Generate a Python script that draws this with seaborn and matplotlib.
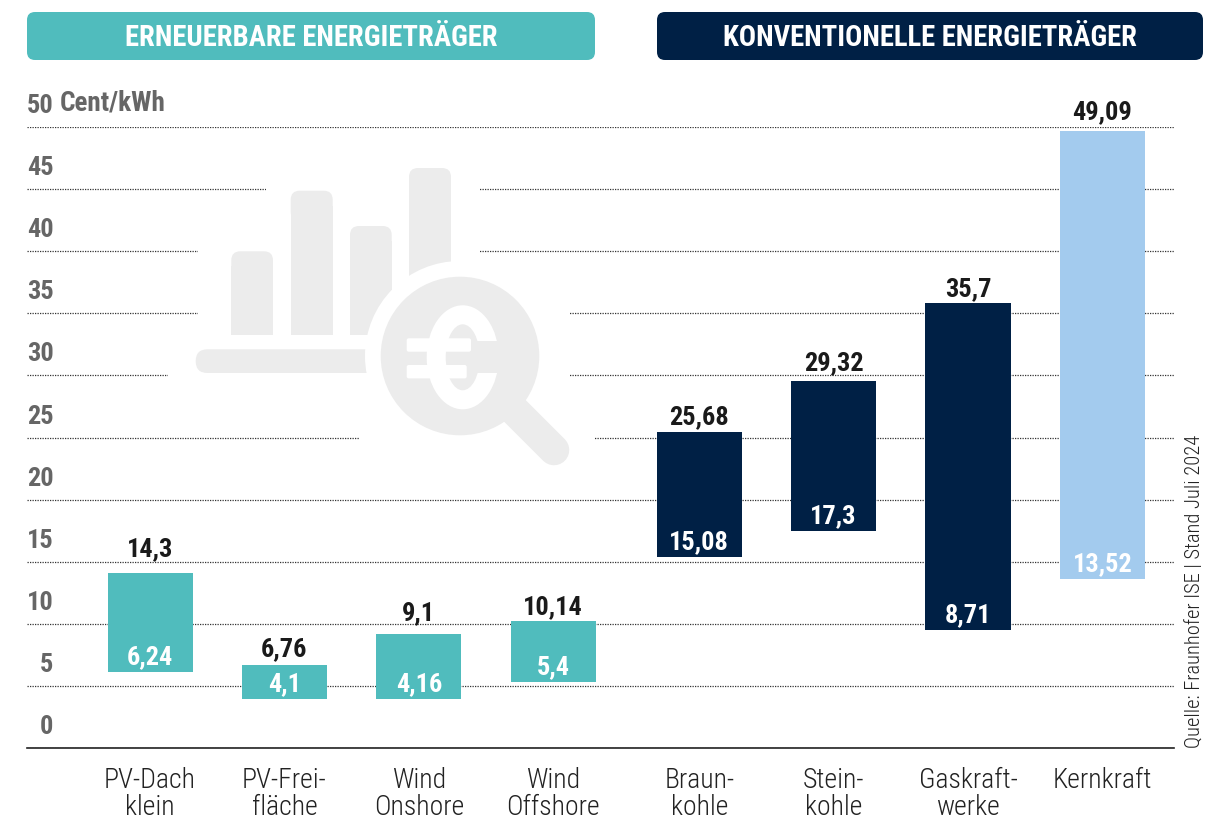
import numpy as np
import pandas as pd
import matplotlib
matplotlib.use('Agg')
import matplotlib.pyplot as plt
import seaborn as sns
from matplotlib.patches import Circle, Ellipse, FancyBboxPatch, Rectangle
from matplotlib.lines import Line2D
from matplotlib.transforms import Affine2D, ScaledTranslation

# Werte
categories = ["PV-Dach\nklein", "PV-Frei-\nfläche", "Wind\nOnshore", "Wind\nOffshore",
              "Braun-\nkohle", "Stein-\nkohle", "Gaskraft-\nwerke", "Kernkraft"]
groups = ["ee", "ee", "ee", "ee", "fossil", "fossil", "fossil", "kern"]
low_drawn = [6.12, 3.95, 3.95, 5.3, 15.38, 17.47, 9.5, 13.6]
high_drawn = [14.09, 6.68, 9.18, 10.2, 25.44, 29.55, 35.8, 49.68]
low_labels = ["6,24", "4,1", "4,16", "5,4", "15,08", "17,3", "8,71", "13,52"]
high_labels = ["14,3", "6,76", "9,1", "10,14", "25,68", "29,32", "35,7", "49,09"]
y_ticks = [0, 5, 10, 15, 20, 25, 30, 35, 40, 45, 50]

TEAL = "#50BCBD"
NAVY = "#002045"
LIGHT = "#A3CBEE"
ICON = "#ECECEC"
palette = {"ee": TEAL, "fossil": NAVY, "kern": LIGHT}

sns.set_theme(style="white")
plt.rcParams['font.family'] = ['Roboto Condensed', 'Liberation Sans', 'DejaVu Sans']

W, H = 1211, 819
fig = plt.figure(figsize=(W / 100, H / 100), dpi=100)
ax = fig.add_axes([27 / W, (H - 748) / H, 1147 / W, 621 / H])
# Pixelkoordinaten (Ursprung oben links) fuer Kopfzeilen und Icon
px = Affine2D().scale(1, -1).translate(0, H)

# zweite Gruppe steht etwas weiter rechts
gap = 0.087
pos = np.arange(len(categories)) + gap * (np.array(groups) != "ee")
df = pd.DataFrame({"pos": pos, "low": low_drawn, "height": np.array(high_drawn) - np.array(low_drawn),
                   "group": groups})
for i, row in df.iterrows():
    # einzeln zeichnen, damit jeder Balken seinen eigenen Fusspunkt hat
    sns.barplot(x=[row["pos"]], y=[row["height"]], color=palette[row["group"]], native_scale=True,
                width=0.633, bottom=row["low"], linewidth=0, saturation=1, zorder=3, ax=ax,
                errorbar=None)

ax.set_xlim(-0.916, 7.62)
ax.set_ylim(0, 50)
ax.set_xlabel("")
ax.set_ylabel("")
ax.set_xticks(pos, categories)
ax.set_yticks(y_ticks, [str(t) for t in y_ticks])
ax.tick_params(axis='x', length=0, pad=13.7, labelsize=20, labelcolor="#222222")
ax.tick_params(axis='y', length=0, pad=-19, labelsize=19, labelcolor="#666666")
for lab in ax.get_xticklabels():
    lab.set_linespacing(1.02)
    lab.set_fontweight(300)
for lab in ax.get_yticklabels():
    lab.set_fontweight("bold")
    lab.set_transform(lab.get_transform() + ScaledTranslation(0, 23.5 / 100, fig.dpi_scale_trans))

ax.grid(axis='y', color="#333333", linewidth=0.9, linestyle=(0, (1, 1)))
ax.set_axisbelow(True)
for side in ["top", "left", "right"]:
    ax.spines[side].set_visible(False)
ax.spines["bottom"].set_color("#222222")
ax.spines["bottom"].set_linewidth(1.2)

ax.text(60, 103, "Cent/kWh", transform=px, fontsize=19.5, fontweight="bold", color="#666666",
        ha="left", va="center", clip_on=False)

# Wertebeschriftung
top_offset = [23.5, 15.5, 20.5, 14.5, 14.5, 17.5, 14.5, 18.5]
for x, hi, lo, hl, ll, off in zip(pos, high_drawn, low_drawn, high_labels, low_labels, top_offset):
    ax.annotate(hl, (x, hi), xytext=(0, off * 0.72), textcoords="offset points", ha="center",
                va="center", fontsize=19, fontweight="bold", color="#1a1a1a", zorder=4)
    ax.annotate(ll, (x, lo), xytext=(0, 15 * 0.72), textcoords="offset points", ha="center",
                va="center", fontsize=19, fontweight="bold", color="white", zorder=4)

# Kopfzeilen
for x0, x1, col, txt in [(27, 595, TEAL, "ERNEUERBARE ENERGIETRÄGER"),
                         (657, 1203, NAVY, "KONVENTIONELLE ENERGIETRÄGER")]:
    ax.add_patch(FancyBboxPatch((x0, 12), x1 - x0, 48, boxstyle="round,pad=0,rounding_size=8",
                                fc=col, ec="none", transform=px, clip_on=False))
    ax.text((x0 + x1) / 2, 38, txt, transform=px, color="white", fontsize=20.6, fontweight="bold",
            ha="center", va="center", clip_on=False)

# Luecken in den Gitterlinien um das Icon
for y, x0, x1 in [(189.5, 266, 480), (251.5, 198, 480), (313.5, 198, 569),
                  (375.5, 168, 569), (438, 359, 595)]:
    ax.add_patch(Rectangle((x0, y - 2), x1 - x0, 4, fc="white", ec="none", transform=px, zorder=1))

# Icon: Balken mit Lupe
for x0, x1, top in [(231.3, 273, 251.3), (290.7, 332.7, 190.7), (350, 391.7, 226), (409, 451, 168)]:
    ax.add_patch(FancyBboxPatch((x0, top), x1 - x0, 30, boxstyle="round,pad=0,rounding_size=9",
                                fc=ICON, ec="none", transform=px, zorder=1.1))
    ax.add_patch(Rectangle((x0, top + 15), x1 - x0, 334.7 - top - 15, fc=ICON, ec="none",
                           transform=px, zorder=1.1))
ax.add_patch(FancyBboxPatch((195.7, 349.3), 190, 23.7, boxstyle="round,pad=0,rounding_size=11.8",
                            fc=ICON, ec="none", transform=px, zorder=1.1))
ax.add_patch(Circle((460, 356), 95, fc="white", ec="none", transform=px, zorder=1.2))
ax.add_line(Line2D([500, 554], [396, 450], color=ICON, lw=22, solid_capstyle="round",
                   transform=px, zorder=1.3))
ax.add_patch(Circle((460, 356), 79.3, fc=ICON, ec="none", transform=px, zorder=1.4))
# Euro-Zeichen im Lupenglas
ax.add_patch(Ellipse((462.7, 357.3), 72, 104, fc="white", ec="none", transform=px, zorder=1.5))
ax.add_patch(Ellipse((462.7, 357.3), 34, 66, fc=ICON, ec="none", transform=px, zorder=1.6))
ax.add_patch(Rectangle((462.7, 341.3), 42, 32, fc=ICON, ec="none", transform=px, zorder=1.6))
ax.add_patch(FancyBboxPatch((406.7, 338.3), 64.3, 13.4, boxstyle="round,pad=0,rounding_size=2",
                            fc="white", ec="none", transform=px, zorder=1.7))
ax.add_patch(FancyBboxPatch((406.7, 365), 60, 13.4, boxstyle="round,pad=0,rounding_size=2",
                            fc="white", ec="none", transform=px, zorder=1.7))

ax.text(1195, 748, "Quelle: Fraunhofer ISE | Stand Juli 2024", transform=px, rotation=90,
        fontsize=14.8, fontweight=300, color="#222222", ha="center", va="bottom", clip_on=False)

fig.savefig("out.png", dpi=100)
